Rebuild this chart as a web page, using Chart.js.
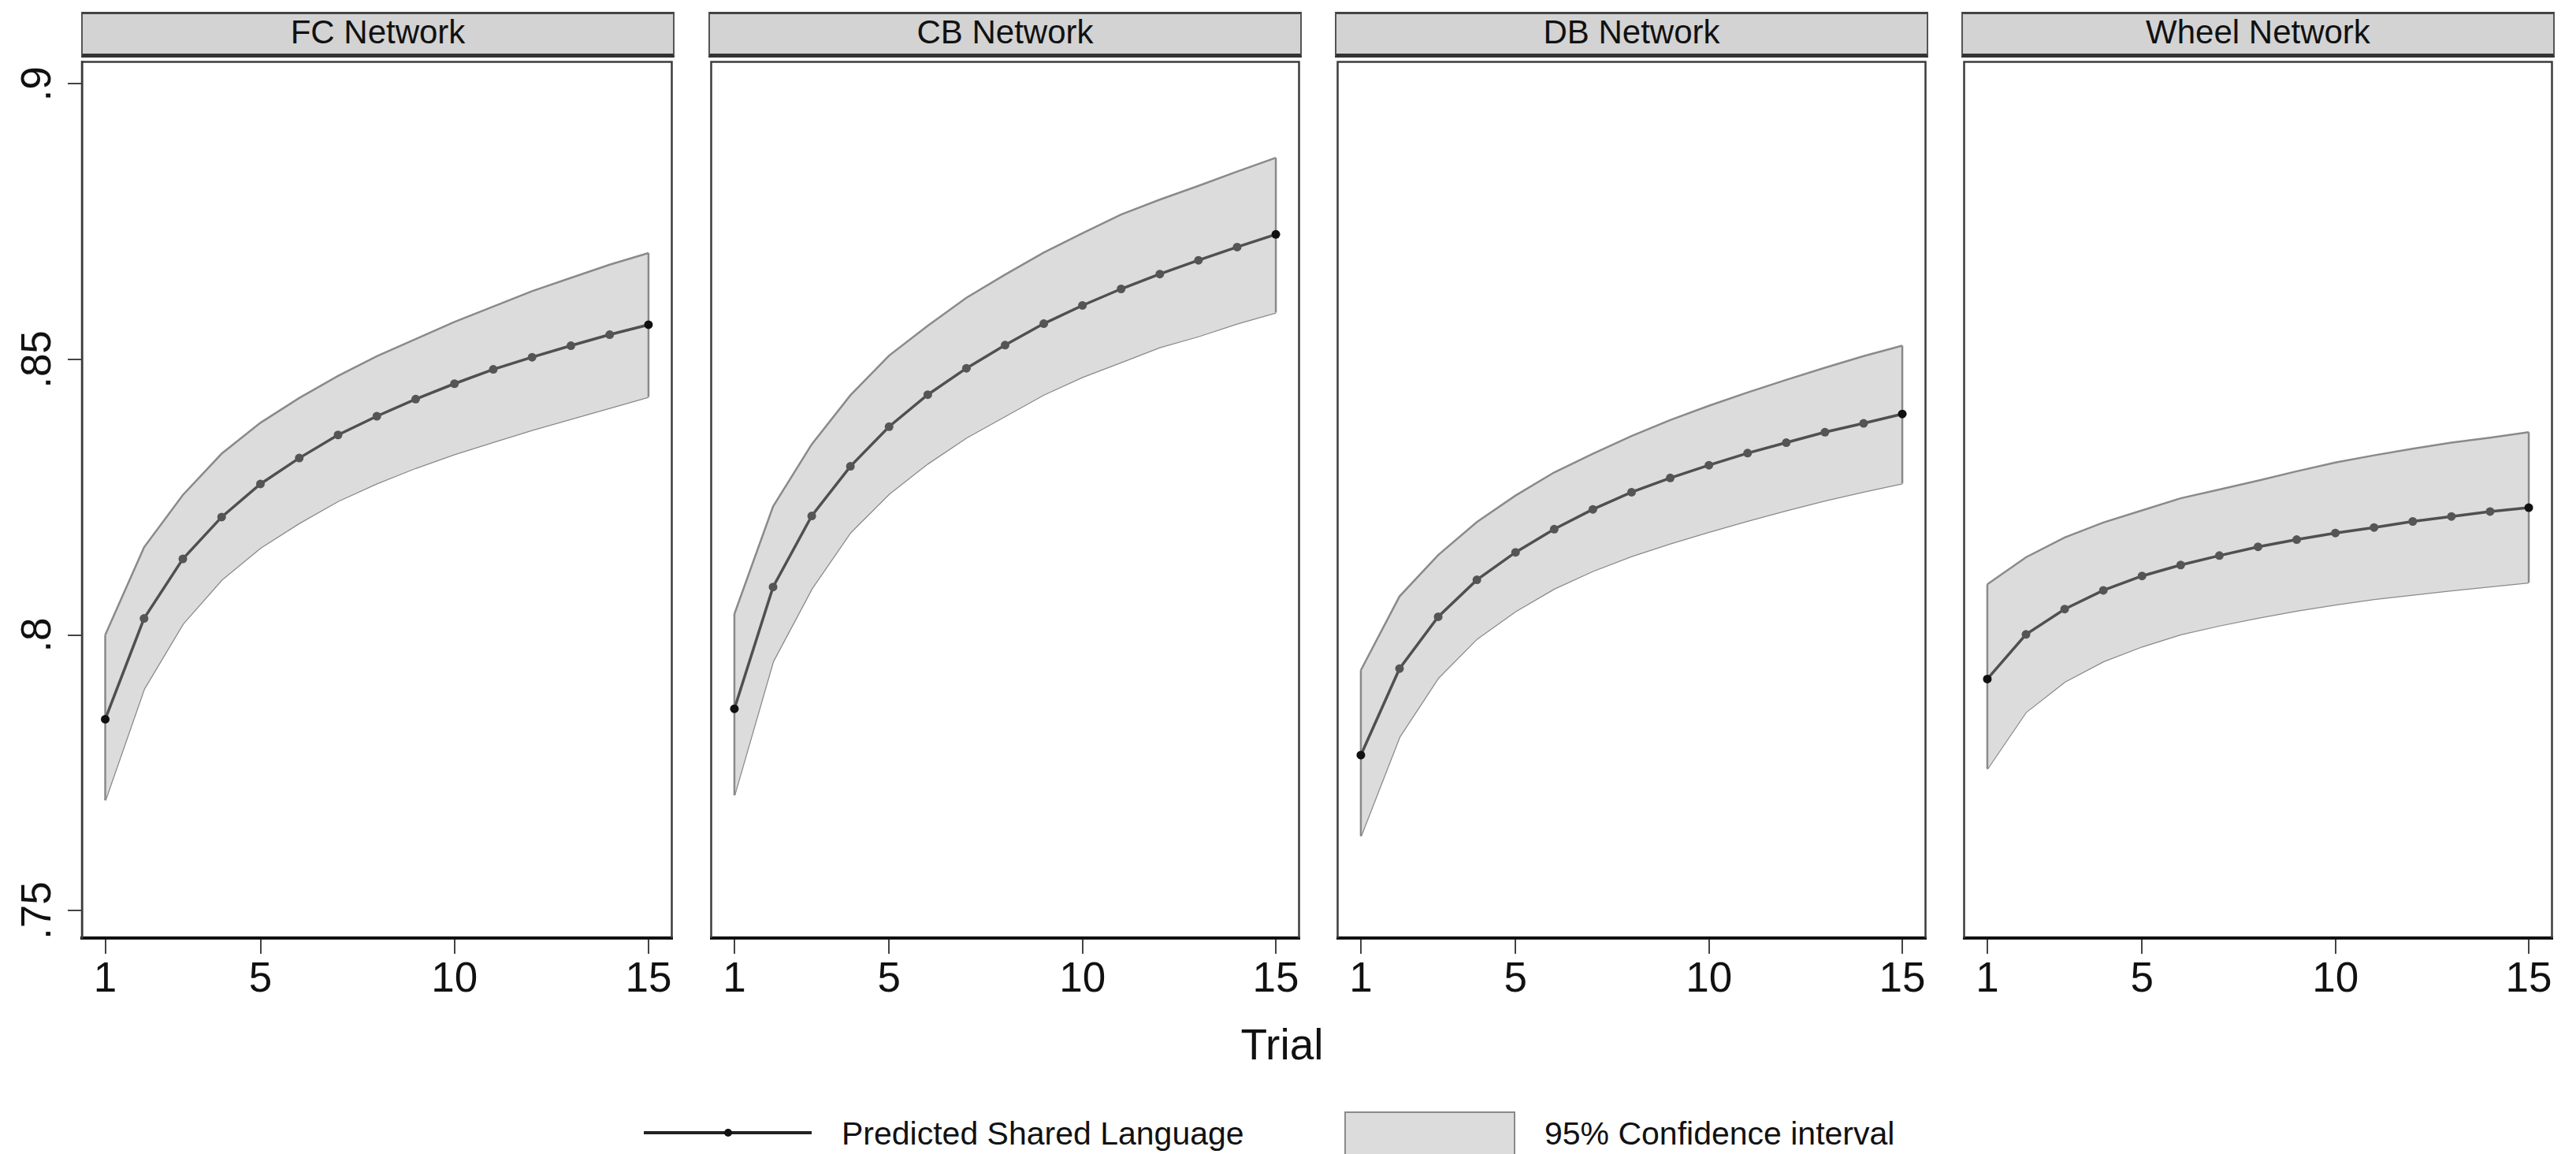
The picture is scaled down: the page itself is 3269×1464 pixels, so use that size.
<!DOCTYPE html>
<html lang="en">
<head>
<meta charset="utf-8"/>
<title>Predicted Shared Language by network</title>
<script src="https://cdn.jsdelivr.net/npm/chart.js@4.4.1/dist/chart.umd.min.js"></script>
<style>
    body { margin: 0; background: #fff; font-family: "Liberation Sans", Arial, sans-serif; }
    #page { position: relative; width: 3269px; height: 1464px; overflow: hidden; background: #fff; }
    .head { position: absolute; top: 15px; height: 58px; box-sizing: border-box; background: #d3d3d3;
            border: 2px solid #555; border-top: 3px solid #444; border-bottom: 5px solid #333;
            text-align: center; font-size: 42px; line-height: 46px; color: #111; }
    canvas { position: absolute; top: 73px; }
    .txt { position: absolute; color: #111; white-space: nowrap; line-height: 1; }
</style>
</head>
<body>
<div id="page">
    <div id="heads"></div>
    <div class="txt" style="left:1627px; top:1298px; font-size:55px; transform:translateX(-50%);">Trial</div>
    <!-- legend -->
    <div style="position:absolute; left:817px; top:1435px; width:213px; height:4px; background:#222;"></div>
    <div style="position:absolute; left:919px; top:1432px; width:10px; height:10px; border-radius:50%; background:#111;"></div>
    <div class="txt" style="left:1068px; top:1418px; font-size:41px;">Predicted Shared Language</div>
    <div style="position:absolute; left:1706px; top:1410px; width:217px; height:70px; box-sizing:border-box; background:#dcdcdc; border:2px solid #8a8a8a;"></div>
    <div class="txt" style="left:1960px; top:1418px; font-size:41px;">95% Confidence interval</div>
</div>

<script>
const trials = [1, 2, 3, 4, 5, 6, 7, 8, 9, 10, 11, 12, 13, 14, 15];
const panelNames = ['FC Network', 'CB Network', 'DB Network', 'Wheel Network'];
const xTicks = [1, 5, 10, 15];
const yTicks = [0.75, 0.8, 0.85, 0.9];
const yTickLabels = ['.75', '.8', '.85', '.9'];

const fcPred  = [.7847, .8030, .8138, .8214, .8274, .8321, .8363, .8397, .8428, .8456, .8482, .8504, .8525, .8545, .8563];
const fcUpper = [.8000, .8159, .8254, .8329, .8385, .8430, .8470, .8506, .8537, .8568, .8596, .8624, .8648, .8672, .8693];
const fcLower = [.7700, .7902, .8020, .8100, .8158, .8203, .8243, .8275, .8303, .8328, .8350, .8372, .8392, .8412, .8432];

const cbPred  = [.7866, .8087, .8216, .8306, .8378, .8436, .8484, .8526, .8565, .8598, .8628, .8655, .8680, .8704, .8727];
const cbUpper = [.8038, .8233, .8346, .8435, .8507, .8561, .8612, .8654, .8694, .8729, .8763, .8790, .8815, .8841, .8866];
const cbLower = [.7709, .7952, .8084, .8186, .8256, .8311, .8358, .8397, .8436, .8468, .8495, .8522, .8542, .8565, .8585];

const dbPred  = [.7782, .7939, .8033, .8100, .8150, .8192, .8228, .8259, .8285, .8308, .8330, .8349, .8368, .8384, .8401];
const dbUpper = [.7936, .8070, .8145, .8205, .8253, .8295, .8329, .8361, .8390, .8416, .8440, .8463, .8485, .8506, .8525];
const dbLower = [.7635, .7815, .7922, .7993, .8043, .8084, .8116, .8143, .8166, .8187, .8207, .8226, .8244, .8260, .8275];

const wheelPred  = [.7920, .8001, .8047, .8081, .8107, .8127, .8144, .8160, .8173, .8185, .8195, .8206, .8215, .8224, .8231];
const wheelUpper = [.8092, .8141, .8177, .8204, .8226, .8248, .8264, .8280, .8297, .8313, .8326, .8338, .8349, .8358, .8368];
const wheelLower = [.7757, .7860, .7915, .7952, .7979, .8001, .8017, .8031, .8044, .8055, .8065, .8073, .8081, .8088, .8095];

const panels = [
    [fcPred, fcUpper, fcLower],
    [cbPred, cbUpper, cbLower],
    [dbPred, dbUpper, dbLower],
    [wheelPred, wheelUpper, wheelLower]
];

// page geometry (px)
const panelLeft = [104, 900, 1695, 2490];
const panelWidth = 751;

Chart.defaults.font.family = '"Liberation Sans", Arial, sans-serif';
Chart.defaults.color = '#111';

const framePlugin = {
    id: 'frame',
    afterDraw(chart) {
        const a = chart.chartArea, c = chart.ctx;
        c.save();
        c.strokeStyle = '#3c3c3c';
        c.lineWidth = 2.5;
        c.beginPath();
        c.moveTo(a.left, a.bottom);
        c.lineTo(a.left, a.top);
        c.lineTo(a.right, a.top);
        c.lineTo(a.right, a.bottom);
        c.stroke();
        c.restore();
    }
};

const pts = (ys) => ys.map((y, i) => ({x: trials[i], y: y}));
const page = document.getElementById('page');
const bandLine = { borderColor: '#8a8a8a', borderWidth: 2.5, pointRadius: 0, fill: false };

panels.forEach(([pred, upper, lower], k) => {
    const head = document.createElement('div');
    head.className = 'head';
    head.style.left = (panelLeft[k] - 1) + 'px';
    head.style.width = (panelWidth + 2) + 'px';
    head.textContent = panelNames[k];
    document.getElementById('heads').appendChild(head);

    const cv = document.createElement('canvas');
    const first = k === 0;
    cv.width = first ? panelLeft[0] + panelWidth + 3 : panelWidth + 6;
    cv.height = 1217;
    cv.style.left = (first ? 0 : panelLeft[k] - 3) + 'px';
    page.appendChild(cv);

    const last = pred.length - 1;
    new Chart(cv, {
        type: 'line',
        data: {
            datasets: [
                {   // predicted line
                    data: pts(pred),
                    borderColor: '#505050',
                    borderWidth: 3.5,
                    pointRadius: 5.5,
                    pointBorderWidth: 0,
                    pointBackgroundColor: pred.map((v, i) => (i === 0 || i === last) ? '#111' : '#555'),
                    fill: false
                },
                // band edges at first and last trial
                Object.assign({ data: [{x: trials[0], y: upper[0]}, {x: trials[0], y: lower[0]}] }, bandLine),
                Object.assign({ data: [{x: trials[last], y: upper[last]}, {x: trials[last], y: lower[last]}] }, bandLine),
                {   // upper bound, filled down to lower
                    data: pts(upper),
                    borderColor: '#8a8a8a', borderWidth: 2.5, pointRadius: 0,
                    backgroundColor: '#dcdcdc', fill: '+1'
                },
                Object.assign({ data: pts(lower) }, bandLine)
            ]
        },
        options: {
            responsive: false,
            animation: false,
            devicePixelRatio: 1,
            layout: { padding: { left: 3, right: 3, top: 0, bottom: 0 } },
            plugins: { legend: { display: false }, tooltip: { enabled: false } },
            elements: { line: { tension: 0 } },
            scales: {
                x: {
                    type: 'linear', min: 0.4, max: 15.6,
                    afterBuildTicks: s => { s.ticks = xTicks.map(v => ({value: v})); },
                    ticks: { font: { size: 53 }, color: '#111', padding: 2, autoSkip: false, maxRotation: 0 },
                    grid: { drawOnChartArea: false, drawTicks: true, tickLength: 20, color: '#444', lineWidth: 2 },
                    border: { display: true, color: '#111', width: 4 },
                    afterFit: s => { s.height = 100; s.paddingLeft = 0; s.paddingRight = 0; }
                },
                y: {
                    display: first,
                    min: 0.745, max: 0.904,
                    afterBuildTicks: s => { s.ticks = yTicks.map(v => ({value: v})); },
                    ticks: {
                        callback: (v, i) => yTickLabels[i],
                        minRotation: 90, maxRotation: 90, crossAlign: 'center',
                        padding: 0, autoSkip: false, font: { size: 53 }, color: '#111'
                    },
                    grid: { drawOnChartArea: false, tickLength: 18, color: '#444', lineWidth: 2 },
                    border: { color: '#3c3c3c', width: 2.5 },
                    afterFit: s => { s.width = first ? 101 : 0; s.paddingTop = 0; s.paddingBottom = 0; }
                }
            }
        },
        plugins: [framePlugin]
    });
});
</script>
</body>
</html>
